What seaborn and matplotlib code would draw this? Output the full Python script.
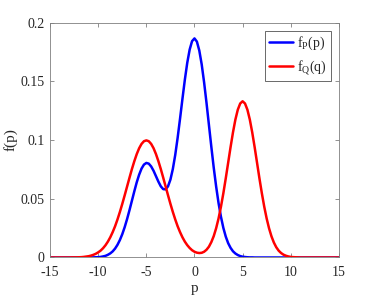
import numpy as np
import pandas as pd
import matplotlib
matplotlib.use("Agg")
import matplotlib.pyplot as plt
import seaborn as sns

# p grid: -15 to 15, step 0.25 (121 points)
p_vals = np.linspace(-15, 15, 121)

# densities, one row = 10 grid points
f_p = [0.0000, 0.0000, 0.0000, 0.0000, 0.0000, 0.0000, 0.0000, 0.0000, 0.0000, 0.0000,
       0.0000, 0.0000, 0.0000, 0.0000, 0.0000, 0.0000, 0.0000, 0.0001, 0.0001, 0.0002,
       0.0003, 0.0005, 0.0009, 0.0014, 0.0023, 0.0035, 0.0052, 0.0076, 0.0108, 0.0149,
       0.0199, 0.0259, 0.0328, 0.0404, 0.0484, 0.0564, 0.0640, 0.0705, 0.0757, 0.0791,
       0.0805, 0.0799, 0.0775, 0.0738, 0.0692, 0.0646, 0.0606, 0.0582, 0.0580, 0.0606,
       0.0663, 0.0753, 0.0873, 0.1019, 0.1182, 0.1351, 0.1514, 0.1658, 0.1770, 0.1842,
       0.1865, 0.1838, 0.1762, 0.1644, 0.1491, 0.1316, 0.1129, 0.0943, 0.0765, 0.0605,
       0.0464, 0.0347, 0.0252, 0.0178, 0.0122, 0.0082, 0.0053, 0.0034, 0.0021, 0.0012,
       0.0007, 0.0004, 0.0002, 0.0001, 0.0001, 0.0000, 0.0000, 0.0000, 0.0000, 0.0000,
       0.0000, 0.0000, 0.0000, 0.0000, 0.0000, 0.0000, 0.0000, 0.0000, 0.0000, 0.0000,
       0.0000, 0.0000, 0.0000, 0.0000, 0.0000, 0.0000, 0.0000, 0.0000, 0.0000, 0.0000,
       0.0000, 0.0000, 0.0000, 0.0000, 0.0000, 0.0000, 0.0000, 0.0000, 0.0000, 0.0000,
       0.0000]
f_q = [0.0000, 0.0000, 0.0000, 0.0000, 0.0000, 0.0000, 0.0000, 0.0000, 0.0000, 0.0001,
       0.0001, 0.0001, 0.0002, 0.0003, 0.0005, 0.0008, 0.0011, 0.0016, 0.0023, 0.0032,
       0.0044, 0.0059, 0.0079, 0.0104, 0.0135, 0.0172, 0.0216, 0.0266, 0.0324, 0.0388,
       0.0457, 0.0530, 0.0605, 0.0680, 0.0753, 0.0820, 0.0880, 0.0930, 0.0967, 0.0990,
       0.0997, 0.0990, 0.0967, 0.0930, 0.0880, 0.0820, 0.0753, 0.0680, 0.0605, 0.0530,
       0.0457, 0.0388, 0.0324, 0.0266, 0.0216, 0.0172, 0.0135, 0.0105, 0.0081, 0.0062,
       0.0049, 0.0041, 0.0038, 0.0040, 0.0049, 0.0066, 0.0092, 0.0131, 0.0182, 0.0249,
       0.0332, 0.0432, 0.0547, 0.0674, 0.0807, 0.0940, 0.1065, 0.1174, 0.1258, 0.1311,
       0.1330, 0.1311, 0.1258, 0.1174, 0.1065, 0.0940, 0.0807, 0.0673, 0.0547, 0.0432,
       0.0332, 0.0248, 0.0180, 0.0127, 0.0087, 0.0058, 0.0038, 0.0024, 0.0015, 0.0009,
       0.0005, 0.0003, 0.0002, 0.0001, 0.0000, 0.0000, 0.0000, 0.0000, 0.0000, 0.0000,
       0.0000, 0.0000, 0.0000, 0.0000, 0.0000, 0.0000, 0.0000, 0.0000, 0.0000, 0.0000,
       0.0000]
series_labels = [r"f$_\mathrm{P}$(p)", r"f$_\mathrm{Q}$(q)"]
series_colors = ["#0000ff", "#ff0000"]
x_ticks = [-15, -10, -5, 0, 5, 10, 15]
y_ticks = [0, 0.05, 0.1, 0.15, 0.2]
y_ticklabels = ["0", "0.05", "0.1", "0.15", "0.2"]

df = pd.DataFrame({
    "p": np.concatenate([p_vals, p_vals]),
    "f": f_p + f_q,
    "series": [series_labels[0]] * len(p_vals) + [series_labels[1]] * len(p_vals),
})

sns.set_theme(style="white")
plt.rcParams["font.family"] = ["Liberation Serif", "DejaVu Serif"]
plt.rcParams["mathtext.fontset"] = "custom"
plt.rcParams["mathtext.rm"] = "Liberation Serif"
plt.rcParams["mathtext.it"] = "Liberation Serif:italic"

fig = plt.figure(figsize=(3.74, 2.97), dpi=100)
ax = fig.add_axes([0.134, 0.133, 0.772, 0.791])

sns.lineplot(data=df, x="p", y="f", hue="series", palette=series_colors,
             linewidth=1.8, ax=ax, estimator=None, sort=False)

ax.set_xlim(-15, 15)
ax.set_ylim(0, 0.2)
ax.set_xticks(x_ticks)
ax.set_xticklabels([str(t) for t in x_ticks])
ax.set_yticks(y_ticks)
ax.set_yticklabels(y_ticklabels)

text_gray = "#262626"
ax.set_xlabel("p", fontsize=11, color=text_gray, labelpad=2)
ax.set_ylabel("f(p)", fontsize=11, color=text_gray, labelpad=2)

for s in ax.spines.values():
    s.set_visible(True)
    s.set_color("#7f7f7f")
    s.set_linewidth(0.6)
ax.tick_params(direction="in", length=3, width=0.6, color="#7f7f7f",
               labelsize=10, labelcolor=text_gray, top=True, right=True,
               bottom=True, left=True)
ax.tick_params(axis="x", pad=6)
ax.tick_params(axis="y", pad=4)

leg = ax.legend(loc="upper right", fontsize=10, frameon=True, fancybox=False,
                handlelength=1.7, handletextpad=0.3, borderpad=0.3,
                labelspacing=0.45, borderaxespad=0.6)
leg.get_frame().set_edgecolor(text_gray)
leg.get_frame().set_linewidth(0.6)

fig.savefig("out.png", dpi=100)
